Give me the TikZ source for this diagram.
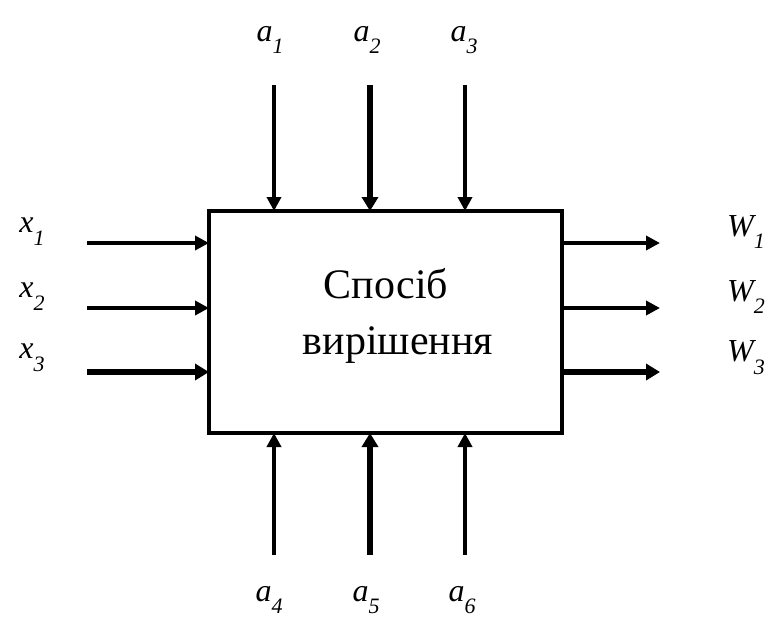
\documentclass[tikz,border=0pt]{standalone}
\usepackage{fontspec}
\setmainfont{Liberation Serif}
\usetikzlibrary{arrows.meta}
\newcommand{\lbl}[2]{{\itshape #1\raisebox{-0.4em}{\fontsize{22}{24}\selectfont\itshape #2}}}
\tikzset{
  arr/.style={line width=4pt,-{Triangle[length=14pt,width=14pt]}},
  arrthick/.style={line width=6pt,-{Triangle[length=14pt,width=16pt]}},
  lab/.style={font=\fontsize{32}{34}\selectfont,inner sep=0pt},
  title/.style={font=\fontsize{42}{44}\selectfont,inner sep=0pt,anchor=base},
  box/.style={draw,line width=4pt,minimum width=353pt,minimum height=222pt,inner sep=0pt}
}
\begin{document}
\begin{tikzpicture}[x=1pt,y=-1pt]
\useasboundingbox (0,0) rectangle (781,619);
\node[box] (B) at (385.5,322) {};
\node[title] (T1) at (386,298) {Спосіб};
\node[title] (T2) at (398,354) {вирішення};
% top
\coordinate (t1) at (274,85); \coordinate (t1e) at (274,211);
\coordinate (t2) at (370,85); \coordinate (t2e) at (370,211);
\coordinate (t3) at (465,85); \coordinate (t3e) at (465,211);
\draw[arr] (t1) -- (t1e);
\draw[arrthick] (t2) -- (t2e);
\draw[arr] (t3) -- (t3e);
% bottom
\coordinate (b1) at (274,555); \coordinate (b1e) at (274,433);
\coordinate (b2) at (370,555); \coordinate (b2e) at (370,433);
\coordinate (b3) at (465,555); \coordinate (b3e) at (465,433);
\draw[arr] (b1) -- (b1e);
\draw[arrthick] (b2) -- (b2e);
\draw[arr] (b3) -- (b3e);
% left
\coordinate (l1) at (87,243); \coordinate (l1e) at (209,243);
\coordinate (l2) at (87,308); \coordinate (l2e) at (209,308);
\coordinate (l3) at (87,372); \coordinate (l3e) at (209,372);
\draw[arr] (l1) -- (l1e);
\draw[arr] (l2) -- (l2e);
\draw[arrthick] (l3) -- (l3e);
% right
\coordinate (r1) at (562,243); \coordinate (r1e) at (660,243);
\coordinate (r2) at (562,308); \coordinate (r2e) at (660,308);
\coordinate (r3) at (562,372); \coordinate (r3e) at (660,372);
\draw[arr] (r1) -- (r1e);
\draw[arr] (r2) -- (r2e);
\draw[arrthick] (r3) -- (r3e);
% labels
\node[lab] (la1) at (270,40) {\lbl{a}{1}};
\node[lab] (la2) at (367,40) {\lbl{a}{2}};
\node[lab] (la3) at (464,40) {\lbl{a}{3}};
\node[lab] (la4) at (269,600) {\lbl{a}{4}};
\node[lab] (la5) at (366,600) {\lbl{a}{5}};
\node[lab] (la6) at (462,600) {\lbl{a}{6}};
\node[lab] (lx1) at (32,232) {\lbl{x}{1}};
\node[lab] (lx2) at (32,297) {\lbl{x}{2}};
\node[lab] (lx3) at (32,358) {\lbl{x}{3}};
\node[lab] (lw1) at (746,232) {\lbl{W}{1}};
\node[lab] (lw2) at (746,297) {\lbl{W}{2}};
\node[lab] (lw3) at (746,358) {\lbl{W}{3}};
\end{tikzpicture}
\end{document}
